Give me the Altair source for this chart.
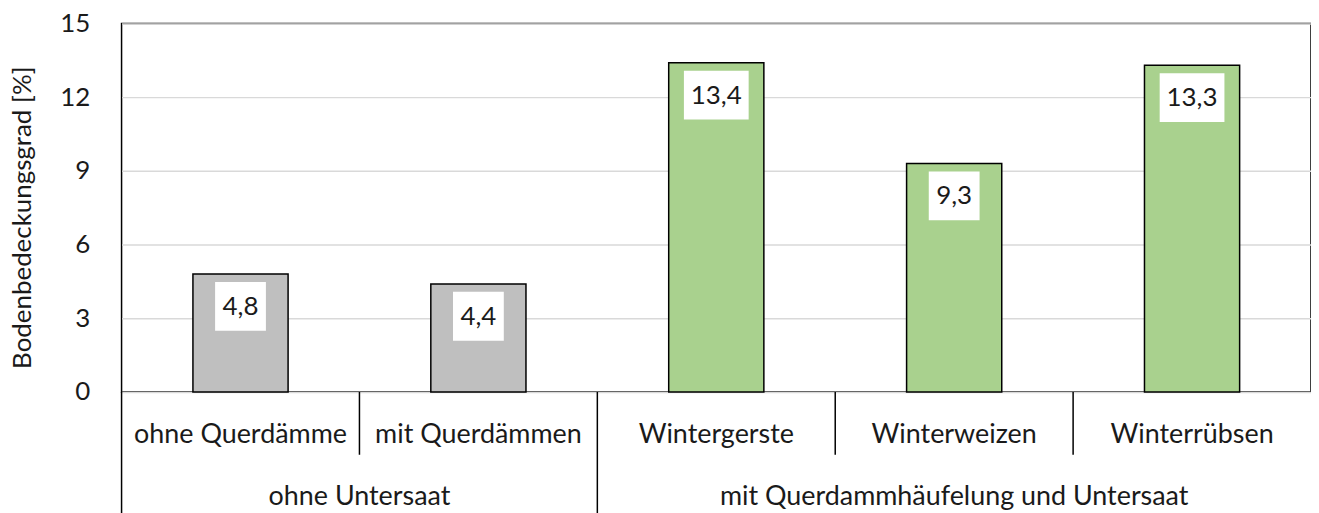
import altair as alt
import pandas as pd

categories = ["ohne Querdämme", "mit Querdämmen", "Wintergerste", "Winterweizen", "Winterrübsen"]
groups = ["ohne Untersaat", "ohne Untersaat", "mit Querdammhäufelung und Untersaat",
          "mit Querdammhäufelung und Untersaat", "mit Querdammhäufelung und Untersaat"]
values = [4.8, 4.4, 13.4, 9.3, 13.3]
labels = ["4,8", "4,4", "13,4", "9,3", "13,3"]
bar_colors = ["#BFBFBF", "#BFBFBF", "#A9D18E", "#A9D18E", "#A9D18E"]
y_ticks = [0, 3, 6, 9, 12, 15]

W, H = 1194, 370
FONT = "Lato"
FS = 26
TXT = "#1a1a1a"

df = pd.DataFrame({"cat": categories, "grp": groups, "val": values,
                   "lab": labels, "col": bar_colors})
df["i"] = range(len(df))

# group spans
grp_rows = []
for g in dict.fromkeys(groups):
    idx = [k for k, gg in enumerate(groups) if gg == g]
    grp_rows.append({"grp": g, "start": idx[0], "end": idx[-1] + 1})
gdf = pd.DataFrame(grp_rows)

# separators: group starts are long, other category starts short
starts = set(gdf["start"])
sdf = pd.DataFrame([{"x": k, "long": k in starts} for k in range(len(categories))])

xs = alt.Scale(domain=[0, len(categories)], nice=False, zero=False)
ys = alt.Scale(domain=[0, 15], nice=False)

base = alt.Chart(df)

bars = base.transform_calculate(
    x0="datum.i + 0.3", x1="datum.i + 0.7", zero="0"
).mark_bar(stroke="black", strokeWidth=1.5).encode(
    x=alt.X("x0:Q", scale=xs, axis=None),
    x2="x1:Q",
    y=alt.Y("val:Q", scale=ys,
            axis=alt.Axis(values=y_ticks, title="Bodenbedeckungsgrad [%]",
                          grid=True, gridColor="#D9D9D9", gridWidth=1.5,
                          ticks=False, domain=False, labelPadding=32,
                          labelFontSize=FS, labelFont=FONT, labelColor=TXT,
                          titleFontSize=26, titleFont=FONT, titleFontWeight="normal",
                          titleColor=TXT, titleX=-99, titleY=194.5,
                          titleAngle=270, titleAlign="center", titleBaseline="middle")),
    y2="zero:Q",
    color=alt.Color("col:N", scale=None),
)

center = base.transform_calculate(xc="datum.i + 0.5")

box_short = center.transform_filter("length(datum.lab) <= 3").mark_point(
    shape="M-1,-0.96L1,-0.96L1,0.96L-1,0.96Z", size=51 * 51, filled=True,
    fill="white", opacity=1, strokeWidth=0, yOffset=32.5
).encode(x=alt.X("xc:Q", scale=xs), y=alt.Y("val:Q", scale=ys))

box_long = center.transform_filter("length(datum.lab) > 3").mark_point(
    shape="M-1,-0.754L1,-0.754L1,0.754L-1,0.754Z", size=65 * 65, filled=True,
    fill="white", opacity=1, strokeWidth=0, yOffset=32.5
).encode(x=alt.X("xc:Q", scale=xs), y=alt.Y("val:Q", scale=ys))

txt = center.mark_text(fontSize=FS, font=FONT, color=TXT, baseline="middle",
                       yOffset=33).encode(
    x=alt.X("xc:Q", scale=xs), y=alt.Y("val:Q", scale=ys), text="lab:N")

cat_txt = center.mark_text(fontSize=27, font=FONT, color=TXT,
                           baseline="middle").encode(
    x=alt.X("xc:Q", scale=xs), y=alt.value(H + 43), text="cat:N")

grp_txt = alt.Chart(gdf).transform_calculate(
    xc="(datum.start + datum.end) / 2"
).mark_text(fontSize=27, font=FONT, color=TXT, baseline="middle").encode(
    x=alt.X("xc:Q", scale=xs), y=alt.value(H + 105), text="grp:N")

sep_short = alt.Chart(sdf).transform_filter("!datum.long").mark_rule(
    color="black", strokeWidth=1.5).encode(
    x=alt.X("x:Q", scale=xs), y=alt.value(H), y2=alt.value(H + 63))

sep_long = alt.Chart(sdf).transform_filter("datum.long").mark_rule(
    color="black", strokeWidth=1.5).encode(
    x=alt.X("x:Q", scale=xs), y=alt.value(H), y2=alt.value(H + 125))

chart = alt.layer(bars, box_short, box_long, txt, cat_txt, grp_txt,
                  sep_short, sep_long).properties(
    width=W, height=H,
    autosize=alt.AutoSizeParams(type="none"),
    padding={"left": 114, "top": 14.5, "right": 0, "bottom": 121},
).configure_view(stroke="black", strokeWidth=1.5)

chart.save("out.html", embed_options={"renderer": "svg", "actions": False})
